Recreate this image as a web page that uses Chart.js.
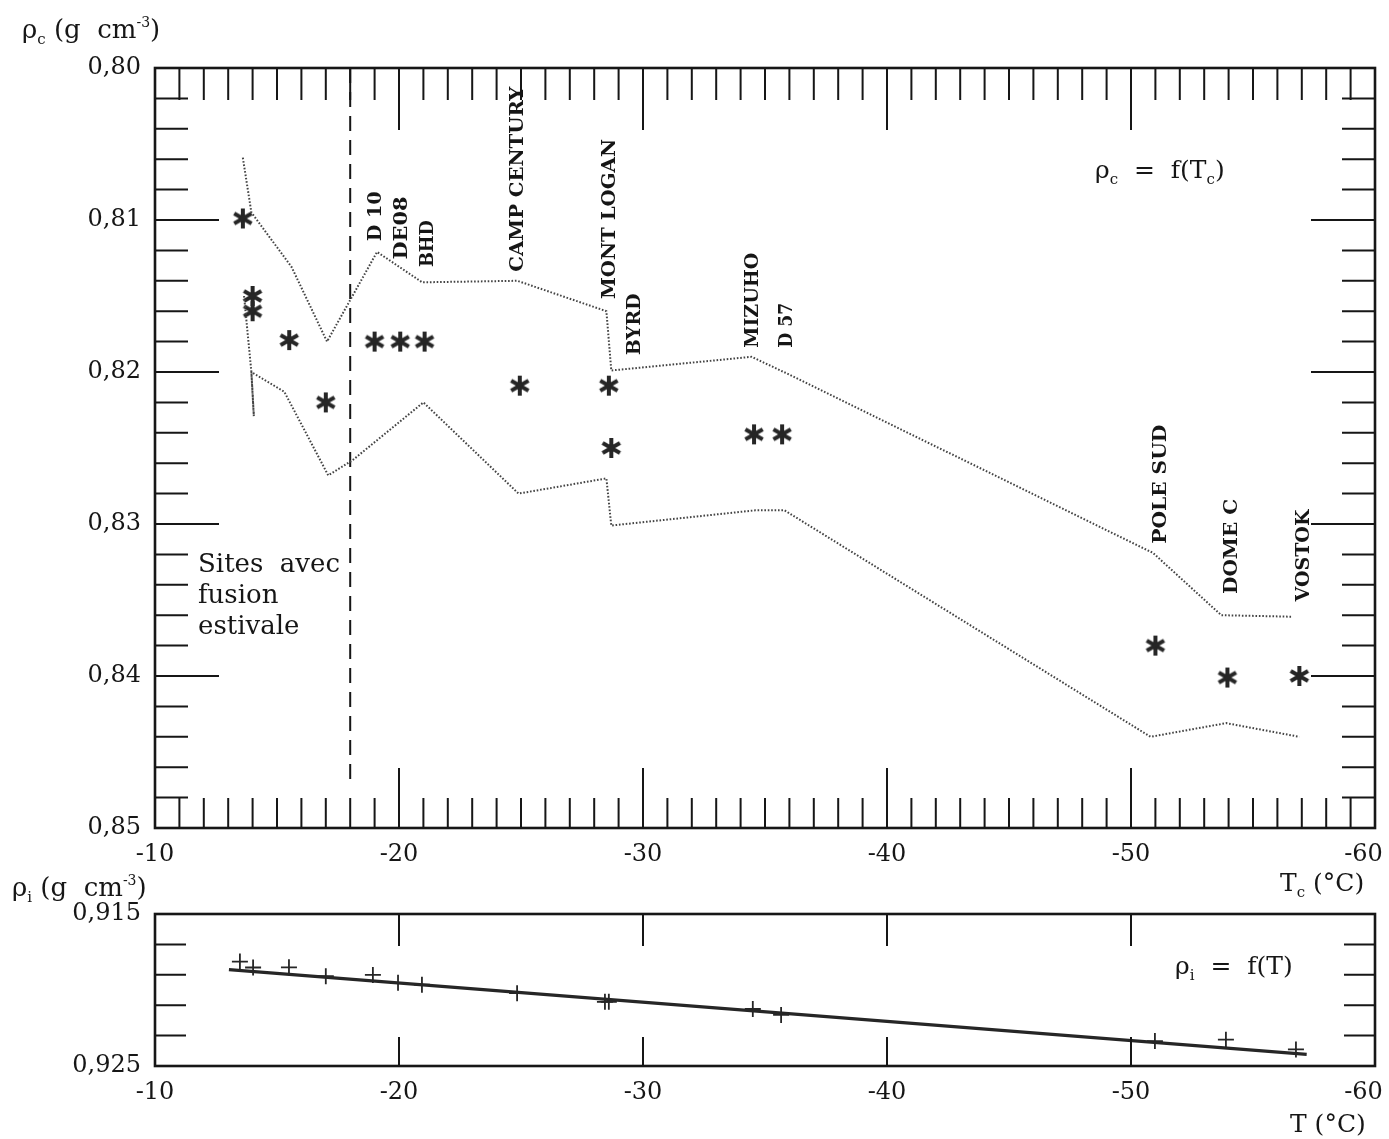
<!DOCTYPE html>
<html>
<head>
<meta charset="utf-8">
<script src="https://cdn.jsdelivr.net/npm/chart.js@4.4.0/dist/chart.umd.min.js"></script>
<style>
  body { margin: 0; background: #fff; }
  #wrap { position: relative; width: 1389px; height: 1139px; }
  #top, #bottom { position: absolute; left: 0; }
  #top { top: 0; }
  #bottom { top: 860px; }
</style>
</head>
<body>
<div id="wrap">
  <canvas id="top" width="1389" height="900"></canvas>
  <canvas id="bottom" width="1389" height="279"></canvas>
</div>
<script>
// Top panel: close-off density rho_c vs temperature T_c (asterisks = sites)
const siteTemps = [-13.6, -14.0, -14.0, -15.5, -17.0, -19.0, -20.05, -21.05, -24.95, -28.6, -28.7, -34.55, -35.7, -51.0, -53.95, -56.9];
const siteDensity = [0.8099, 0.8150, 0.8160, 0.8179, 0.8220, 0.8180, 0.8180, 0.8180, 0.8209, 0.8209, 0.8250, 0.8241, 0.8241, 0.8380, 0.8401, 0.8400];

// dotted envelopes
const upperTemps = [-13.6, -13.95, -15.6, -17.05, -19.1, -20.95, -24.85, -28.5, -28.7, -34.45, -35.9, -50.9, -53.7, -56.6];
const upperDensity = [0.8059, 0.8095, 0.8131, 0.8180, 0.8121, 0.8141, 0.8140, 0.8160, 0.8199, 0.8190, 0.8201, 0.8319, 0.8360, 0.8361];
const lowerTemps = [-13.65, -13.95, -14.05, -13.95, -15.3, -17.1, -18.1, -21.0, -24.9, -28.5, -28.7, -34.6, -35.8, -50.8, -53.9, -56.9];
const lowerDensity = [0.8150, 0.8200, 0.8229, 0.8200, 0.8213, 0.8268, 0.8258, 0.8220, 0.8280, 0.8270, 0.8301, 0.8291, 0.8291, 0.8440, 0.8431, 0.8440];

// summer melt limit (dashed)
const meltTemps = [-18, -18];
const meltDensity = [0.800, 0.8472];

const xTickVals = [-10, -20, -30, -40, -50, -60];
const topYTickVals = [0.80, 0.81, 0.82, 0.83, 0.84, 0.85];

// site names
const siteNames = ["D 10", "DE08", "BHD", "CAMP CENTURY", "MONT LOGAN", "BYRD", "MIZUHO", "D 57", "POLE SUD", "DOME C", "VOSTOK"];
const siteNameTemps = [-19.0, -20.1, -21.15, -24.85, -28.6, -29.65, -34.45, -35.85, -51.2, -54.1, -57.05];
const siteNameDensity = [0.8114, 0.8126, 0.8131, 0.8134, 0.8152, 0.8189, 0.8184, 0.8184, 0.8313, 0.8346, 0.8351];
const siteNameLen = [50, 63, 47, 185, 160, 62, 95, 45, 119, 95, 92];

// Bottom panel: ice density rho_i vs T
const iceTemps = [-13.48, -14.02, -15.49, -17.0, -18.93, -19.96, -20.94, -24.84, -28.44, -28.6, -34.5, -35.66, -50.98, -53.89, -56.76];
const iceDensity = [0.91813, 0.91852, 0.91851, 0.91909, 0.91901, 0.91953, 0.91965, 0.92021, 0.92078, 0.92078, 0.92125, 0.92164, 0.92336, 0.92327, 0.92391];
const fitTemps = [-13.03, -57.2];
const fitDensity = [0.91866, 0.92423];
const bottomYTickVals = [0.915, 0.925];

const FONT = '"DejaVu Serif", serif';
const INK = '#161616';

const pts = (xs, ys) => xs.map((x, i) => ({ x: x, y: ys[i] }));

// asterisk marker
function makeAsterisk() {
  const c = document.createElement('canvas');
  c.width = 26; c.height = 26;
  const g = c.getContext('2d');
  g.strokeStyle = '#262626';
  g.lineWidth = 4;
  [90, 30, 150].forEach(a => {
    const r = a * Math.PI / 180;
    g.beginPath();
    g.moveTo(13 - 10 * Math.cos(r), 13 - 10 * Math.sin(r));
    g.lineTo(13 + 10 * Math.cos(r), 13 + 10 * Math.sin(r));
    g.stroke();
  });
  return c;
}
const asterisk = makeAsterisk();

function richText(ctx, x, y, parts, size) {
  ctx.textAlign = 'left';
  ctx.textBaseline = 'alphabetic';
  parts.forEach(p => {
    ctx.font = (p.size || size) + 'px ' + FONT;
    ctx.fillText(p.t, x, y + (p.dy || 0));
    x += ctx.measureText(p.t).width;
  });
}

// frame + inward ticks on all four sides
function frameTicks(chart, xt, yt) {
  const { ctx, chartArea: a, scales } = chart;
  ctx.save();
  ctx.strokeStyle = INK;
  ctx.lineWidth = 2;
  ctx.beginPath();
  xt.forEach(t => {
    const px = scales.x.getPixelForValue(t.v);
    ctx.moveTo(px, a.bottom); ctx.lineTo(px, a.bottom - t.b);
    ctx.moveTo(px, a.top); ctx.lineTo(px, a.top + t.t);
  });
  yt.forEach(t => {
    const py = scales.y.getPixelForValue(t.v);
    ctx.moveTo(a.left, py); ctx.lineTo(a.left + t.len, py);
    ctx.moveTo(a.right, py); ctx.lineTo(a.right - t.len, py);
  });
  ctx.stroke();
  ctx.lineWidth = 2.6;
  ctx.strokeRect(a.left, a.top, a.right - a.left, a.bottom - a.top);
  ctx.restore();
}

function fixScale(w, h) {
  return s => {
    if (w) s.width = w;
    if (h) s.height = h;
    s.paddingLeft = 0; s.paddingRight = 0; s.paddingTop = 0; s.paddingBottom = 0;
  };
}

function xAxis(h) {
  return {
    type: 'linear', min: -60, max: -10, reverse: true,
    grid: { display: false }, border: { display: false },
    afterBuildTicks: s => { s.ticks = xTickVals.map(v => ({ value: v })); },
    afterFit: fixScale(null, h),
    ticks: { color: INK, font: { family: FONT, size: 24 }, padding: 4, maxRotation: 0,
      // keep the last label inside the page
      callback: v => v === -60 ? '-60\u00a0\u00a0\u00a0' : String(v) }
  };
}

// ---------- top chart ----------
const topXT = [];
for (let t = -11; t >= -59; t--) {
  const major = t % 10 === 0;
  topXT.push({ v: t, t: major ? 62 : 32, b: major ? 60 : 30 });
}
const topYT = [];
for (let k = 1; k < 25; k++) {
  topYT.push({ v: 0.80 + k * 0.002, len: k % 5 === 0 ? 64 : 33 });
}

new Chart(document.getElementById('top'), {
  type: 'scatter',
  data: {
    datasets: [
      { data: pts(upperTemps, upperDensity), showLine: true, borderColor: '#444', borderWidth: 2,
        borderDash: [1.6, 1.8], pointRadius: 0, fill: false },
      { data: pts(lowerTemps, lowerDensity), showLine: true, borderColor: '#444', borderWidth: 2,
        borderDash: [1.6, 1.8], pointRadius: 0, fill: false },
      { data: pts(meltTemps, meltDensity), showLine: true, borderColor: INK, borderWidth: 2,
        borderDash: [15, 9], pointRadius: 0 },
      { data: pts(siteTemps, siteDensity), showLine: false, pointStyle: asterisk, pointRadius: 12 }
    ]
  },
  options: {
    responsive: false, animation: false,
    layout: { padding: { left: 0, right: 14, top: 68, bottom: 0 } },
    plugins: { legend: { display: false }, tooltip: { enabled: false } },
    scales: {
      x: xAxis(72),
      y: {
        type: 'linear', min: 0.80, max: 0.85, reverse: true,
        grid: { display: false }, border: { display: false },
        afterBuildTicks: s => { s.ticks = topYTickVals.map(v => ({ value: v })); },
        afterFit: fixScale(155, null),
        ticks: { color: INK, font: { family: FONT, size: 24 }, padding: 6,
          callback: v => v.toFixed(2).replace('.', ',') }
      }
    }
  },
  plugins: [{
    id: 'topDecor',
    afterDatasetsDraw(chart) {
      const { ctx, scales } = chart;
      frameTicks(chart, topXT, topYT);
      ctx.save();
      ctx.fillStyle = INK;
      // rotated site names
      siteNames.forEach((name, i) => {
        const px = scales.x.getPixelForValue(siteNameTemps[i]);
        const py = scales.y.getPixelForValue(siteNameDensity[i]);
        ctx.save();
        ctx.translate(px, py);
        ctx.rotate(-Math.PI / 2);
        ctx.font = 'bold 19px ' + FONT;
        ctx.textAlign = 'left';
        ctx.textBaseline = 'middle';
        const w = ctx.measureText(name).width;
        ctx.scale(siteNameLen[i] / w, 1);
        ctx.fillText(name, 0, 1);
        ctx.restore();
      });
      // titles
      richText(ctx, 22, 38, [{ t: 'ρ' }, { t: 'c', size: 15, dy: 6 }, { t: ' (g  cm' }, { t: '-3', size: 14, dy: -11 }, { t: ')' }], 26);
      richText(ctx, 1095, 178, [{ t: 'ρ' }, { t: 'c', size: 15, dy: 6 }, { t: '  =  f(T' }, { t: 'c', size: 15, dy: 6 }, { t: ')' }], 25);
      richText(ctx, 1280, 891, [{ t: 'T' }, { t: 'c', size: 15, dy: 6 }, { t: ' (°C)' }], 25);
      ctx.font = '26px ' + FONT;
      ctx.fillText('Sites  avec', 198, 572);
      ctx.fillText('fusion', 198, 603);
      ctx.fillText('estivale', 198, 634);
      ctx.restore();
    }
  }]
});

// ---------- bottom chart ----------
const botXT = [-20, -30, -40, -50].map(v => ({ v: v, t: 32, b: 29 }));
const botYT = [0.917, 0.919, 0.921, 0.923].map(v => ({ v: v, len: 31 }));

new Chart(document.getElementById('bottom'), {
  type: 'scatter',
  data: {
    datasets: [
      { data: pts(fitTemps, fitDensity), showLine: true, borderColor: '#262626', borderWidth: 3.2, pointRadius: 0 },
      { data: pts(iceTemps, iceDensity), showLine: false, pointStyle: 'cross', pointRadius: 8,
        borderColor: '#262626', borderWidth: 1.8 }
    ]
  },
  options: {
    responsive: false, animation: false,
    layout: { padding: { left: 0, right: 14, top: 54, bottom: 0 } },
    plugins: { legend: { display: false }, tooltip: { enabled: false } },
    scales: {
      x: xAxis(73),
      y: {
        type: 'linear', min: 0.915, max: 0.925, reverse: true,
        grid: { display: false }, border: { display: false },
        afterBuildTicks: s => { s.ticks = bottomYTickVals.map(v => ({ value: v })); },
        afterFit: fixScale(155, null),
        ticks: { color: INK, font: { family: FONT, size: 24 }, padding: 6,
          callback: v => v.toFixed(3).replace('.', ',') }
      }
    }
  },
  plugins: [{
    id: 'botDecor',
    afterDatasetsDraw(chart) {
      const { ctx } = chart;
      frameTicks(chart, botXT, botYT);
      ctx.save();
      ctx.fillStyle = INK;
      richText(ctx, 12, 36, [{ t: 'ρ' }, { t: 'i', size: 15, dy: 6 }, { t: ' (g  cm' }, { t: '-3', size: 14, dy: -11 }, { t: ')' }], 26);
      richText(ctx, 1175, 114, [{ t: 'ρ' }, { t: 'i', size: 15, dy: 6 }, { t: '  =  f(T)' }], 25);
      richText(ctx, 1290, 272, [{ t: 'T (°C)' }], 25);
      ctx.restore();
    }
  }]
});
</script>
</body>
</html>
